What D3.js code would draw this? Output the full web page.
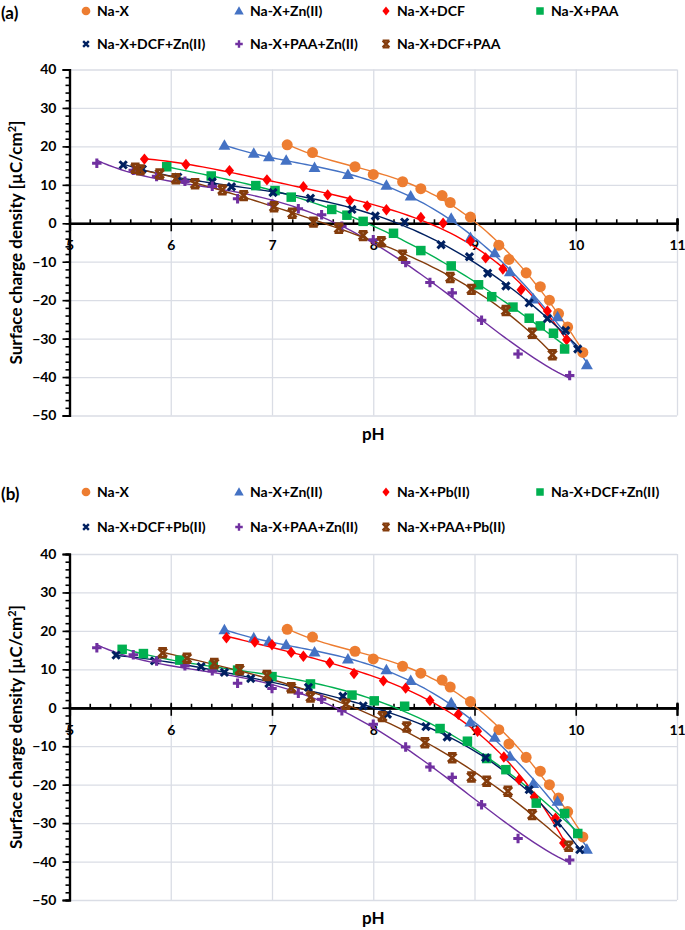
<!DOCTYPE html>
<html lang="en">
  <head>
    <meta charset="utf-8">
    <title>Surface charge density vs pH</title>
    <script src="https://d3js.org/d3.v7.min.js"></script>
    <style>
      body { margin: 0; background: #fff; }
      text { font-family: Lato, "Open Sans", sans-serif; font-weight: bold; fill: #000; }
    </style>
  </head>
  <body>
  <script>

// data: [pH, surface charge density]

  var naX = [[7.15,20.4],[7.40,18.4],[7.82,14.7],[8.00,12.7],[8.29,10.8],[8.47,9.0],[8.68,7.2],[8.76,5.4],
             [8.96,1.6],[9.24,-5.7],[9.34,-9.4],[9.51,-12.9],[9.65,-16.5],[9.74,-20.0],[9.83,-23.5],[9.92,-27.0],[10.07,-33.6]];
  var naXZn = [[6.53,20.3],[6.82,18.2],[6.97,17.3],[7.14,16.4],[7.42,14.5],[7.75,12.7],[8.13,9.9],[8.37,7.1],
               [8.77,1.3],[8.96,-3.7],[9.20,-7.7],[9.35,-12.6],[9.58,-19.7],[9.82,-24.3],[10.11,-36.8]];
  var naXDcf = [[5.74,16.7],[6.15,15.3],[6.58,13.7],[6.95,11.3],[7.31,9.5],[7.55,7.4],[7.77,5.9],[7.94,4.5],
                [8.13,3.5],[8.47,1.5],[8.69,0.0],[8.96,-4.6],[9.11,-9.0],[9.28,-11.9],[9.46,-17.3],[9.72,-22.8],[9.91,-30.3]];
  var naXPaa = [[5.96,14.7],[6.40,12.3],[6.84,9.8],[7.03,8.5],[7.19,6.8],[7.59,3.6],[7.74,2.1],[7.90,0.5],[8.20,-2.6],
                [8.47,-7.1],[8.77,-11.1],[9.04,-16.0],[9.17,-19.1],[9.38,-21.8],[9.54,-24.7],[9.65,-26.7],[9.78,-28.6],[9.89,-32.7]];
  var naXDcfZn = [[5.53,15.2],[5.72,14.1],[6.07,12.0],[6.41,10.8],[6.60,9.5],[7.01,8.0],[7.38,6.5],[7.79,3.6],[8.02,1.9],
                  [8.31,0.3],[8.67,-5.6],[8.95,-8.7],[9.13,-13.0],[9.31,-16.3],[9.54,-20.7],[9.72,-24.8],[9.90,-27.9],[10.02,-32.7]];
  var naXPaaZn = [[5.27,15.6],[5.63,13.8],[5.86,12.2],[6.14,10.9],[6.41,9.6],[6.66,6.4],[7.00,5.0],[7.26,3.8],[7.49,2.2],
                  [7.69,-0.8],[8.00,-4.3],[8.32,-10.2],[8.56,-15.4],[8.78,-18.1],[9.07,-25.2],[9.43,-34.0],[9.94,-39.6]];
  var naXDcfPaa = [[5.65,14.3],[5.70,13.9],[5.89,12.8],[6.05,11.6],[6.24,10.3],[6.51,8.7],[6.72,7.2],[7.02,4.3],[7.20,2.6],
                   [7.41,0.3],[7.66,-1.3],[7.90,-3.2],[8.08,-4.8],[8.29,-8.3],[8.76,-14.1],[8.97,-17.2],[9.31,-22.7],[9.57,-28.6],[9.77,-34.2]];

  var naXPb = [[6.55,18.2],[6.83,17.1],[7.00,16.4],[7.19,14.4],[7.31,13.4],[7.57,11.7],[7.81,8.9],[8.10,7.0],[8.32,5.1],
               [8.56,1.9],[8.84,-1.7],[9.03,-6.1],[9.29,-12.8],[9.44,-18.7],[9.59,-23.2],[9.80,-28.7],[9.88,-35.2]];
  var naXDcfZnB = [[5.52,15.2],[5.73,14.1],[6.09,12.4],[6.42,11.0],[6.66,9.8],[7.00,8.1],[7.38,6.2],[7.79,3.3],[8.01,1.8],
                   [8.31,0.4],[8.66,-5.4],[8.93,-8.7],[9.12,-13.2],[9.31,-16.1],[9.61,-24.8],[9.89,-27.5],[10.02,-32.7]];
  var naXDcfPb = [[5.46,13.7],[5.84,12.2],[6.30,10.7],[6.53,9.2],[6.79,7.6],[6.97,6.3],[7.36,5.3],[7.70,3.0],[7.90,0.5],
                  [8.14,-1.7],[8.52,-4.9],[8.73,-7.6],[9.11,-13.0],[9.54,-21.3],[9.82,-30.0],[10.04,-36.9]];
  var naXPaaPb = [[5.92,14.3],[6.16,12.9],[6.43,11.5],[6.68,9.9],[6.95,8.4],[7.19,5.2],[7.38,2.8],[7.73,0.9],[8.09,-2.3],
                  [8.33,-5.0],[8.51,-9.1],[8.78,-13.0],[8.97,-18.0],[9.12,-19.1],[9.33,-21.7],[9.57,-27.8],[9.93,-36.0]];

  var namesA = ["Na-X", "Na-X+Zn(II)", "Na-X+DCF", "Na-X+PAA", "Na-X+DCF+Zn(II)", "Na-X+PAA+Zn(II)", "Na-X+DCF+PAA"];
  var namesB = ["Na-X", "Na-X+Zn(II)", "Na-X+Pb(II)", "Na-X+DCF+Zn(II)", "Na-X+DCF+Pb(II)", "Na-X+PAA+Zn(II)", "Na-X+PAA+Pb(II)"];
  var seriesA = [naX, naXZn, naXDcf, naXPaa, naXDcfZn, naXPaaZn, naXDcfPaa];
  var seriesB = [naX, naXZn, naXPb, naXDcfZnB, naXDcfPb, naXPaaZn, naXPaaPb];

  var xTicks = [5, 6, 7, 8, 9, 10, 11];
  var yTicks = [-50, -40, -30, -20, -10, 0, 10, 20, 30, 40];

  var colors = ["#ED7D31", "#4472C4", "#FF0000", "#00B050", "#002060", "#7030A0", "#843C0C"];
  var shapes = ["circle", "triangle", "diamond", "square", "x", "plus", "star"];

// page

  var W = 685, H = 930;
  var svg = d3.select("body").append("svg")
      .attr("width", W)
      .attr("height", H);

  svg.append("rect").attr("width", W).attr("height", H).attr("fill", "#fff");

// polynomial trend line (least squares, like the spreadsheet trendline)

  function polyFit(pts, order) {
    var n = order + 1;
    var xm = d3.mean(pts, d => d[0]);
    var A = d3.range(n).map(() => d3.range(n + 1).map(() => 0));
    pts.forEach(function(p) {
      var t = p[0] - xm;
      for (var i = 0; i < n; i++) {
        for (var j = 0; j < n; j++) A[i][j] += Math.pow(t, i + j);
        A[i][n] += p[1] * Math.pow(t, i);
      }
    });
    for (var c = 0; c < n; c++) {
      var piv = c;
      for (var r = c + 1; r < n; r++) if (Math.abs(A[r][c]) > Math.abs(A[piv][c])) piv = r;
      var tmp = A[c]; A[c] = A[piv]; A[piv] = tmp;
      for (var r2 = 0; r2 < n; r2++) {
        if (r2 === c) continue;
        var f = A[r2][c] / A[c][c];
        for (var k = c; k <= n; k++) A[r2][k] -= f * A[c][k];
      }
    }
    var coef = d3.range(n).map(i => A[i][n] / A[i][i]);
    return function(x) {
      var t = x - xm, s = 0;
      for (var i = 0; i < n; i++) s += coef[i] * Math.pow(t, i);
      return s;
    };
  }

// marker shapes

  function drawMarker(g, shape, color, cx, cy, s) {
    if (shape === "circle") {
      g.append("circle").attr("cx", cx).attr("cy", cy).attr("r", s * 0.58).attr("fill", color);
    } else if (shape === "triangle") {
      var h = s * 1.05;
      g.append("path").attr("fill", color)
        .attr("d", `M${cx},${cy - h * 0.6}L${cx + h * 0.6},${cy + h * 0.45}L${cx - h * 0.6},${cy + h * 0.45}Z`);
    } else if (shape === "diamond") {
      var r = s * 0.6;
      g.append("path").attr("fill", color)
        .attr("d", `M${cx},${cy - r}L${cx + r * 0.8},${cy}L${cx},${cy + r}L${cx - r * 0.8},${cy}Z`);
    } else if (shape === "square") {
      g.append("rect").attr("x", cx - s / 2).attr("y", cy - s / 2).attr("width", s).attr("height", s).attr("fill", color);
    } else if (shape === "x") {
      var a = s * 0.38;
      g.append("path").attr("stroke", color).attr("stroke-width", s * 0.32).attr("fill", "none")
        .attr("d", `M${cx - a},${cy - a}L${cx + a},${cy + a}M${cx + a},${cy - a}L${cx - a},${cy + a}`);
    } else if (shape === "plus") {
      var b = s * 0.5;
      g.append("path").attr("stroke", color).attr("stroke-width", s * 0.32).attr("fill", "none")
        .attr("d", `M${cx - b},${cy}L${cx + b},${cy}M${cx},${cy - b}L${cx},${cy + b}`);
    } else if (shape === "star") {
      var q = s * 0.45;
      g.append("path").attr("stroke", color).attr("stroke-width", s * 0.3).attr("fill", "none")
        .attr("d", `M${cx - q},${cy - q}L${cx + q},${cy + q}M${cx + q},${cy - q}L${cx - q},${cy + q}` +
                   `M${cx - q},${cy - q}L${cx + q},${cy - q}M${cx - q},${cy + q}L${cx + q},${cy + q}`);
    }
  }

// one panel

  function drawPanel(cfg) {
    var x = d3.scaleLinear().domain([5, 11]).range([69.5, 677]);
    var y = d3.scaleLinear().domain([-50, 40]).range([cfg.top + 346, cfg.top]);
    var g = svg.append("g");

    // grid
    g.append("g")
        .attr("transform", `translate(0, ${y(-50)})`)
        .call(d3.axisBottom(x).tickValues(xTicks).tickSize(-(y(-50) - y(40))).tickFormat(""))
        .call(s => s.select(".domain").remove())
        .selectAll("line").attr("stroke", "#dadde5").attr("stroke-width", 1.3);
    g.append("g")
        .attr("transform", `translate(${x(5)}, 0)`)
        .call(d3.axisLeft(y).tickValues(yTicks).tickSize(-(x(11) - x(5))).tickFormat(""))
        .call(s => s.select(".domain").remove())
        .selectAll("line").attr("stroke", "#dadde5").attr("stroke-width", 1.3);

    // y axis
    var ya = g.append("g").attr("transform", `translate(${x(5)}, 0)`);
    ya.call(d3.axisLeft(y).tickValues(d3.range(-50, 41, 2)).tickSize(4).tickFormat(""));
    ya.append("g").call(d3.axisLeft(y).tickValues(yTicks).tickSize(7).tickPadding(6));
    ya.selectAll(".domain").attr("stroke", "#000").attr("stroke-width", 2.2);
    ya.selectAll("line").attr("stroke", "#000").attr("stroke-width", 1.6);
    ya.selectAll("text").attr("font-size", 14).attr("font-family", "Lato").attr("font-weight", "bold");

    // x axis through zero
    var xa = g.append("g").attr("transform", `translate(0, ${y(0)})`);
    xa.call(d3.axisTop(x).tickValues(d3.range(5, 11.01, 0.2)).tickSize(4).tickFormat(""));
    xa.append("g").call(d3.axisBottom(x).tickValues(xTicks).tickSize(8).tickPadding(9).tickFormat(d3.format("d")));
    xa.append("g").call(d3.axisTop(x).tickValues(xTicks).tickSize(5).tickFormat(""));
    xa.selectAll(".domain").attr("stroke", "#000").attr("stroke-width", 2.2);
    xa.selectAll("line").attr("stroke", "#000").attr("stroke-width", 1.6);
    xa.selectAll("text").attr("font-size", 14).attr("font-family", "Lato").attr("font-weight", "bold");

    // axis titles
    var yt = g.append("text")
        .attr("transform", `translate(22, ${(y(40) + y(-50)) / 2}) rotate(-90)`)
        .attr("text-anchor", "middle")
        .attr("font-size", 17);
    yt.append("tspan").text("Surface charge density [µC/cm");
    yt.append("tspan").attr("font-size", 11).attr("dy", -6).text("2");
    yt.append("tspan").attr("dy", 6).text("]");

    g.append("text")
        .attr("x", (x(5) + x(11)) / 2)
        .attr("y", y(-50) + 24)
        .attr("text-anchor", "middle")
        .attr("font-size", 17)
        .text("pH");

    // trend lines then markers
    var line = d3.line().x(d => x(d[0])).y(d => y(d[1]));
    cfg.series.forEach(function(pts, i) {
      var f = polyFit(pts, 4);
      var lo = d3.min(pts, d => d[0]), hi = d3.max(pts, d => d[0]);
      var curve = d3.range(81).map(k => lo + (hi - lo) * k / 80).map(v => [v, f(v)]);
      g.append("path").datum(curve)
          .attr("d", line)
          .attr("fill", "none")
          .attr("stroke", colors[i])
          .attr("stroke-width", 1.4);
    });
    cfg.series.forEach(function(pts, i) {
      var mg = g.append("g");
      pts.forEach(p => drawMarker(mg, shapes[i], colors[i], x(p[0]), y(p[1]), 9.5));
    });

    // panel letter and legend
    g.append("text").attr("x", 1).attr("y", cfg.legY[0] + 8).attr("font-size", 17).text(cfg.letter);
    var legX = [86, 239, 386, 540];
    cfg.names.forEach(function(name, i) {
      var row = i < 4 ? 0 : 1, col = i < 4 ? i : i - 4;
      var lx = legX[col], ly = cfg.legY[row];
      drawMarker(g, shapes[i], colors[i], lx, ly, 7.5);
      g.append("text").attr("x", lx + 11).attr("y", ly + 5).attr("font-size", 14).text(name);
    });
  }

  drawPanel({top: 69.5, series: seriesA, names: namesA, letter: "(a)", legY: [11, 44]});
  drawPanel({top: 554, series: seriesB, names: namesB, letter: "(b)", legY: [492, 527]});

  </script>
  </body>
</html>
